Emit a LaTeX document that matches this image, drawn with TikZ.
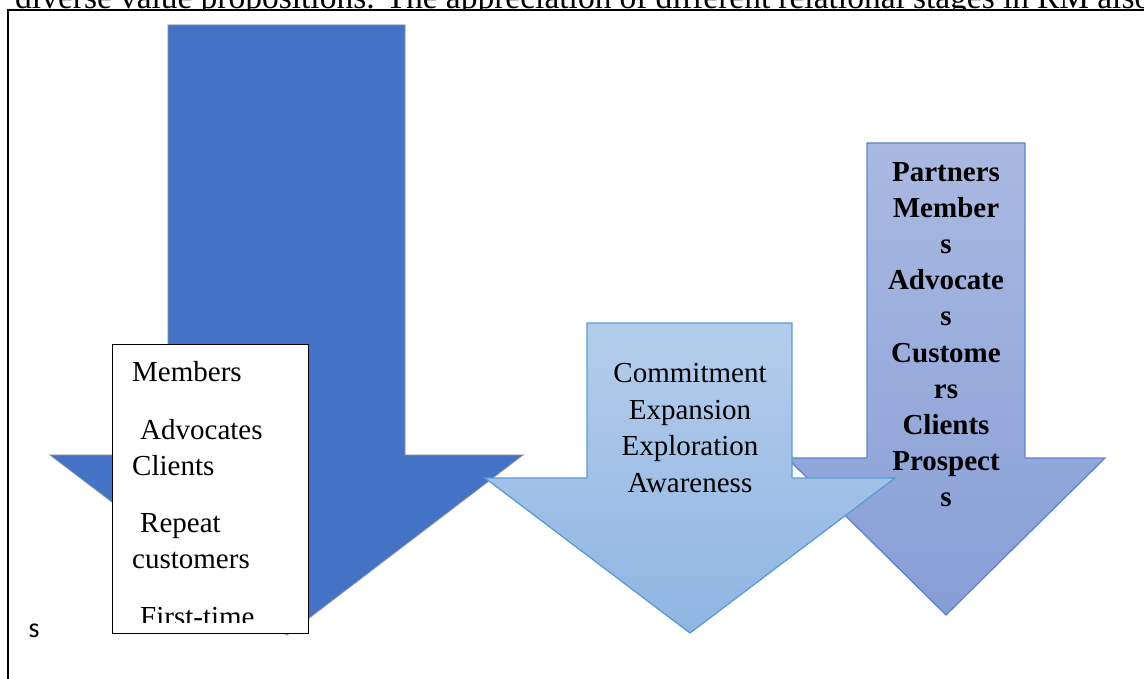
\documentclass[tikz,border=0pt]{standalone}
\usepackage{fontspec}
\setmainfont{Liberation Serif}
\newfontfamily\sansbody{Carlito}
\definecolor{StageBlue}{HTML}{4472C4}
\definecolor{StageEdge}{HTML}{8A8FA0}
\definecolor{PhaseTop}{HTML}{B4CDEB}
\definecolor{PhaseBottom}{HTML}{8FB5E2}
\definecolor{PhaseLine}{HTML}{5B9BD5}
\definecolor{LadderTop}{HTML}{AAB9E1}
\definecolor{LadderBottom}{HTML}{879ED6}
\definecolor{LadderLine}{HTML}{5E84CD}

\begin{document}
\begin{tikzpicture}[
  x=1pt,y=-1pt,
  bodytext/.style={inner sep=0pt,font=\fontsize{29}{36.6}\selectfont},
  listline/.style={bodytext,anchor=base west},
  stagelabel/.style={bodytext,anchor=north,align=center},
  bigarrow/.style={fill=StageBlue,draw=StageEdge,draw opacity=0.6,line width=1.2pt,line join=miter},
  phasearrow/.style={top color=PhaseTop,bottom color=PhaseBottom,draw=PhaseLine,line width=1.3pt},
  ladderarrow/.style={top color=LadderTop,bottom color=LadderBottom,draw=LadderLine,line width=1.3pt}
]
\useasboundingbox (0,0) rectangle (1144,679);

% running text of the page, cut by the frame
\begin{scope}
  \clip (0,0) rectangle (1144,10);
  \node[inner sep=0pt,anchor=base west,font=\fontsize{33.5}{40}\selectfont] (runtext) at (15,9)
    {\hbox to 1136pt{diverse value propositions. The appreciation of different relational stages in RM also}};
\end{scope}
\draw[line width=2pt] (8,690) -- (8,10) -- (1160,10);

% the three down arrows
\path[bigarrow] (168,25) -- (405,25) -- (405,455) -- (523,455) -- (287,635)
  -- (50,455) -- (168,455) -- cycle;
\path[ladderarrow] (867,143) -- (1025,143) -- (1025,458) -- (1105,458) -- (946,615)
  -- (787,458) -- (867,458) -- cycle;
\path[phasearrow] (587,323) -- (792,323) -- (792,478) -- (895,478) -- (690,633)
  -- (485,478) -- (587,478) -- cycle;

% text box over the big arrow
\node[draw=black,fill=white,line width=0.8pt,minimum width=196pt,minimum height=289pt,
  inner sep=0pt,anchor=north west] (listbox) at (112,344) {};
\begin{scope}
  \clip (112,344) rectangle (308,622);
  \node[listline] (members) at (132,381) {Members};
  \node[listline] (advocates) at (140,439) {Advocates};
  \node[listline] (clients) at (132,475) {Clients};
  \node[listline] (repeat) at (140,532) {Repeat};
  \node[listline] (customers) at (132,568) {customers};
  \node[listline] (firsttime) at (140,626) {First-time};
\end{scope}
\node[inner sep=0pt,anchor=base,font=\sansbody\fontsize{28}{32}\selectfont] (stray) at (34,637) {s};

% labels inside the light arrows
\node[stagelabel] (phases) at (690,363) {Commitment\\Expansion\\Exploration\\Awareness};
\node[stagelabel,font=\fontsize{29}{36.2}\selectfont\bfseries] (ladder) at (946,162)
  {Partners\\Member\\s\\Advocate\\s\\Custome\\rs\\Clients\\Prospect\\s};
\end{tikzpicture}
\end{document}
